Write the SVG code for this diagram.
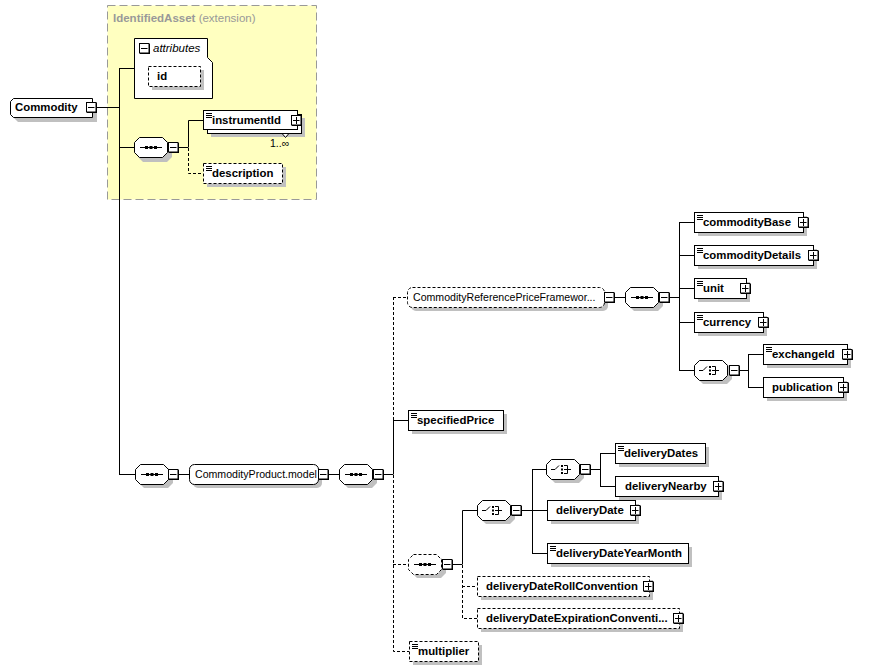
<svg xmlns="http://www.w3.org/2000/svg" xmlns:xlink="http://www.w3.org/1999/xlink" width="875" height="671" viewBox="0 0 875 671">
<style>
.sh{fill:#c0c0c0;stroke:none}
.nd{fill:#fff;stroke:#000;stroke-width:1}
.dsh{stroke-dasharray:3,2}
.ln{fill:none;stroke:#000;stroke-width:1}
.dl{fill:none;stroke:#000;stroke-width:1;stroke-dasharray:3,2}
.lb{font-family:"Liberation Sans",Arial,sans-serif;font-size:11.4px;font-weight:bold;fill:#000}
.mg{font-family:"Liberation Sans",Arial,sans-serif;font-size:10.6px;fill:#000}
.sm{font-family:"Liberation Sans",Arial,sans-serif;font-size:10.5px;fill:#000}
</style>
<defs>
<g id="mi"><rect x="1" y="1" width="10" height="10" fill="#000"/><rect x="0.5" y="0.5" width="9.5" height="9.5" fill="#fff" stroke="#000"/><path d="M2,5.5H8.5" stroke="#000"/></g>
<g id="pl"><rect x="1" y="1" width="10" height="10" fill="#000"/><rect x="0.5" y="0.5" width="9.5" height="9.5" fill="#fff" stroke="#000"/><path d="M2,5.5H8.5M5.5,2V9" stroke="#000"/></g>
<g id="ei"><path d="M3,3.5H9M3,5.5H9M3,7.5H9" stroke="#000"/></g>
<g id="sq"><path d="M-11,0.5H11" stroke="#000"/><rect x="-6" y="-1" width="3" height="3" fill="#000"/><rect x="-1.5" y="-1" width="3" height="3" fill="#000"/><rect x="3" y="-1" width="3" height="3" fill="#000"/></g>
<g id="ch"><path d="M-12,0.5H-8L-4,-3.5M1,-3.5H4.5V4.5H1M1,0.5H8" fill="none" stroke="#000"/><rect x="-2" y="-4" width="2" height="2" fill="#000"/><rect x="-2" y="-0.5" width="2" height="2" fill="#000"/><rect x="-2" y="3" width="2" height="2" fill="#000"/></g>
</defs>
<rect x="0" y="0" width="875" height="671" fill="#fff"/>

<g id="extension">
<rect x="107.5" y="5.5" width="209" height="194" fill="#ffffc0" stroke="#999" stroke-dasharray="8,4"/>
<text x="113" y="22" font-family="Liberation Sans,Arial,sans-serif" font-size="11.5px" fill="#999"><tspan font-weight="bold">IdentifiedAsset</tspan> (extension)</text>
</g>

<g id="connectors">
<path class="ln" d="M97,107.5H119.5M119.5,68V474M119,68.5H134M119,147.5H134M179,147.5H188.5M188.5,147V120.5H203"/>
<path class="dl" d="M188.5,148V173.5H203"/>
<path class="ln" d="M119,474.5H135M179,474.5H189M329,474.5H339M384,474.5H393.5M393.5,420V474M393,420.5H408"/>
<path class="dl" d="M393.5,297V420M393.5,475V651.5H409M393,297.5H407M393,564.5H408"/>
<path class="ln" d="M615,297.5H625M670,297.5H679.5M679.5,222V370M679,222.5H694M679,255.5H694M679,288.5H694M679,322.5H694M679,370.5H694"/>
<path class="ln" d="M740,370.5H748.5M748.5,354V387M748,354.5H763M748,387.5H763"/>
<path class="ln" d="M453,564.5H462.5M462.5,564V510.5H477"/>
<path class="dl" d="M462.5,565V618.5H477M462,586.5H477"/>
<path class="ln" d="M522,510.5H532.5M532.5,469V553M532,469.5H546M532,510.5H547M532,553.5H547"/>
<path class="ln" d="M591,469.5H600.5M600.5,453V486M600,453.5H615M600,486.5H615"/>
</g>

<g id="Commodity">
<path class="sh" d="M18,102H97V122H18L14,118V106Z"/>
<path class="nd" d="M13.5,98.5H92.5V117.5H13.5L10.5,114.5V101.5Z"/>
<text class="lb" x="15" y="111">Commodity</text>
<use xlink:href="#mi" x="86" y="102"/>
</g>

<g id="attributes">
<path class="nd" d="M134.5,38.5H207.5V57.5L212.5,62.5V98.5H134.5Z"/>
<use xlink:href="#mi" x="139" y="43"/>
<text x="153" y="52" font-family="Liberation Sans,Arial,sans-serif" font-size="11.5px" font-style="italic" fill="#000">attributes</text>
</g>

<g id="id">
<rect class="sh" x="152" y="70" width="52" height="20"/>
<rect class="nd dsh" x="148.5" y="66.5" width="52" height="20"/>
<text class="lb" x="157" y="80">id</text>
</g>

<g id="seq1">
<path class="sh" d="M143,141H167L172,146V157L167,162H143L138,157V146Z"/>
<path class="nd" d="M139.5,137.5H162.5L167.5,142.5V152.5L162.5,157.5H139.5L134.5,152.5V142.5Z"/>
<use xlink:href="#sq" x="151" y="147"/>
<use xlink:href="#mi" x="168" y="142"/>
</g>

<g id="instrumentId">
<path class="sh" d="M211,118H305V137H211Z"/>
<rect class="nd" x="207.5" y="114.5" width="94" height="19"/>
<path class="nd" d="M282.5,134L285.5,137.5L288.5,134"/>
<rect class="nd" x="203.5" y="110.5" width="94" height="19"/>
<use xlink:href="#ei" x="203" y="110"/>
<text class="lb" x="212" y="124">instrumentId</text>
<use xlink:href="#pl" x="291" y="115"/>
<text class="sm" x="270" y="147" fill="#222">1..∞</text>
</g>

<g id="description">
<rect class="sh" x="207" y="167" width="79" height="20"/>
<rect class="nd dsh" x="203.5" y="163.5" width="79" height="20"/>
<use xlink:href="#ei" x="203" y="163"/>
<text class="lb" x="212" y="177">description</text>
</g>

<g id="seq2">
<path class="sh" d="M144,468H168L173,473V483L168,488H144L139,483V473Z"/>
<path class="nd" d="M140.5,464.5H163.5L168.5,469.5V479.5L163.5,484.5H140.5L135.5,479.5V469.5Z"/>
<use xlink:href="#sq" x="152" y="474"/>
<use xlink:href="#mi" x="168" y="469"/>
</g>

<g id="CommodityProduct.model">
<rect class="sh" x="193" y="468" width="129" height="20" rx="5"/>
<rect class="nd" x="189.5" y="464.5" width="129" height="20" rx="5"/>
<text class="mg" x="195" y="478">CommodityProduct.model</text>
<use xlink:href="#mi" x="318" y="469"/>
</g>

<g id="seq3">
<path class="sh" d="M348,468H372L377,473V483L372,488H348L343,483V473Z"/>
<path class="nd" d="M344.5,464.5H367.5L372.5,469.5V479.5L367.5,484.5H344.5L339.5,479.5V469.5Z"/>
<use xlink:href="#sq" x="356" y="474"/>
<use xlink:href="#mi" x="373" y="469"/>
</g>

<g id="CommodityReferencePriceFramework">
<rect class="sh" x="411" y="291" width="197" height="20" rx="5"/>
<rect class="nd dsh" x="407.5" y="287.5" width="197" height="20" rx="5"/>
<text class="mg" x="413" y="301">CommodityReferencePriceFramewor...</text>
<use xlink:href="#mi" x="604" y="292"/>
</g>

<g id="seq4">
<path class="sh" d="M634,291H658L663,296V306L658,311H634L629,306V296Z"/>
<path class="nd" d="M630.5,287.5H653.5L658.5,292.5V302.5L653.5,307.5H630.5L625.5,302.5V292.5Z"/>
<use xlink:href="#sq" x="642" y="297"/>
<use xlink:href="#mi" x="659" y="292"/>
</g>

<g id="commodityBase">
<rect class="sh" x="698" y="216" width="109" height="20"/>
<rect class="nd" x="694.5" y="212.5" width="109" height="20"/>
<use xlink:href="#ei" x="694" y="212"/>
<text class="lb" x="703" y="226">commodityBase</text>
<use xlink:href="#pl" x="798" y="217"/>
</g>

<g id="commodityDetails">
<rect class="sh" x="698" y="249" width="119" height="20"/>
<rect class="nd" x="694.5" y="245.5" width="119" height="20"/>
<use xlink:href="#ei" x="694" y="245"/>
<text class="lb" x="703" y="259">commodityDetails</text>
<use xlink:href="#pl" x="808" y="250"/>
</g>

<g id="unit">
<rect class="sh" x="698" y="282" width="52" height="20"/>
<rect class="nd" x="694.5" y="278.5" width="52" height="20"/>
<use xlink:href="#ei" x="694" y="278"/>
<text class="lb" x="703" y="292">unit</text>
<use xlink:href="#pl" x="740" y="283"/>
</g>

<g id="currency">
<rect class="sh" x="698" y="316" width="69" height="20"/>
<rect class="nd" x="694.5" y="312.5" width="69" height="20"/>
<use xlink:href="#ei" x="694" y="312"/>
<text class="lb" x="703" y="326">currency</text>
<use xlink:href="#pl" x="758" y="317"/>
</g>

<g id="choice1">
<path class="sh" d="M703,364H727L732,369V379L727,384H703L698,379V369Z"/>
<path class="nd" d="M699.5,360.5H722.5L727.5,365.5V375.5L722.5,380.5H699.5L694.5,375.5V365.5Z"/>
<use xlink:href="#ch" x="711" y="370"/>
<use xlink:href="#mi" x="729" y="365"/>
</g>

<g id="exchangeId">
<rect class="sh" x="767" y="348" width="84" height="20"/>
<rect class="nd" x="763.5" y="344.5" width="84" height="20"/>
<use xlink:href="#ei" x="763" y="344"/>
<text class="lb" x="772" y="358">exchangeId</text>
<use xlink:href="#pl" x="842" y="349"/>
</g>

<g id="publication">
<rect class="sh" x="767" y="381" width="80" height="20"/>
<rect class="nd" x="763.5" y="377.5" width="80" height="20"/>
<text class="lb" x="772" y="391">publication</text>
<use xlink:href="#pl" x="838" y="382"/>
</g>

<g id="specifiedPrice">
<rect class="sh" x="412" y="414" width="95" height="20"/>
<rect class="nd" x="408.5" y="410.5" width="95" height="20"/>
<use xlink:href="#ei" x="408" y="410"/>
<text class="lb" x="417" y="424">specifiedPrice</text>
</g>

<g id="seqOpt">
<path class="sh" d="M417,558H441L446,563V573L441,578H417L412,573V563Z"/>
<path class="nd dsh" d="M413.5,554.5H436.5L441.5,559.5V569.5L436.5,574.5H413.5L408.5,569.5V559.5Z"/>
<use xlink:href="#sq" x="425" y="564"/>
<use xlink:href="#mi" x="442" y="559"/>
</g>

<g id="choice2">
<path class="sh" d="M486,504H510L515,509V519L510,524H486L481,519V509Z"/>
<path class="nd" d="M482.5,500.5H505.5L510.5,505.5V515.5L505.5,520.5H482.5L477.5,515.5V505.5Z"/>
<use xlink:href="#ch" x="494" y="510"/>
<use xlink:href="#mi" x="511" y="505"/>
</g>

<g id="choice3">
<path class="sh" d="M555,463H579L584,468V478L579,483H555L550,478V468Z"/>
<path class="nd" d="M551.5,459.5H574.5L579.5,464.5V474.5L574.5,479.5H551.5L546.5,474.5V464.5Z"/>
<use xlink:href="#ch" x="563" y="469"/>
<use xlink:href="#mi" x="580" y="464"/>
</g>

<g id="deliveryDates">
<rect class="sh" x="619" y="447" width="90" height="20"/>
<rect class="nd" x="615.5" y="443.5" width="90" height="20"/>
<use xlink:href="#ei" x="615" y="443"/>
<text class="lb" x="624" y="457">deliveryDates</text>
</g>

<g id="deliveryNearby">
<rect class="sh" x="619" y="480" width="103" height="20"/>
<rect class="nd" x="615.5" y="476.5" width="103" height="20"/>
<text class="lb" x="625" y="490">deliveryNearby</text>
<use xlink:href="#pl" x="713" y="481"/>
</g>

<g id="deliveryDate">
<rect class="sh" x="551" y="504" width="88" height="20"/>
<rect class="nd" x="547.5" y="500.5" width="88" height="20"/>
<text class="lb" x="556" y="514">deliveryDate</text>
<use xlink:href="#pl" x="630" y="505"/>
</g>

<g id="deliveryDateYearMonth">
<rect class="sh" x="551" y="547" width="141" height="20"/>
<rect class="nd" x="547.5" y="543.5" width="141" height="20"/>
<use xlink:href="#ei" x="547" y="543"/>
<text class="lb" x="556" y="557">deliveryDateYearMonth</text>
</g>

<g id="deliveryDateRollConvention">
<rect class="sh" x="481" y="580" width="172" height="20"/>
<rect class="nd dsh" x="477.5" y="576.5" width="172" height="20"/>
<text class="lb" x="486" y="590">deliveryDateRollConvention</text>
<use xlink:href="#pl" x="643" y="581"/>
</g>

<g id="deliveryDateExpirationConvention">
<rect class="sh" x="481" y="612" width="202" height="20"/>
<rect class="nd dsh" x="477.5" y="608.5" width="202" height="20"/>
<text class="lb" x="486" y="622">deliveryDateExpirationConventi...</text>
<use xlink:href="#pl" x="673" y="613"/>
</g>

<g id="multiplier">
<rect class="sh" x="413" y="645" width="69" height="20"/>
<rect class="nd dsh" x="409.5" y="641.5" width="69" height="20"/>
<use xlink:href="#ei" x="409" y="641"/>
<text class="lb" x="418" y="655">multiplier</text>
</g>
</svg>
